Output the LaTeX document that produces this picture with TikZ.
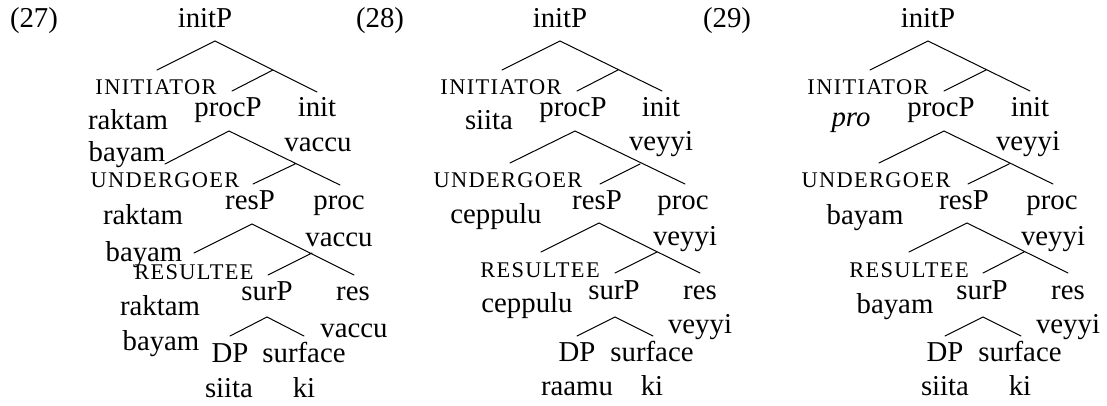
\documentclass[tikz,border=0pt]{standalone}
\usepackage{fontspec}
\setmainfont{Liberation Serif}
\newfontfamily\rolefamily{Liberation Serif}[LetterSpace=6]
\begin{document}
\begin{tikzpicture}[x=0.5pt,y=-0.5pt,
  lbl/.style={anchor=base,inner sep=0pt,outer sep=0pt,font=\fontsize{14.4}{17}\selectfont},
  role/.style={anchor=base,inner sep=0pt,outer sep=0pt,font=\rolefamily\fontsize{11.2}{13}\selectfont},
  branch/.style={line width=0.5pt,line cap=round}]
\useasboundingbox (0,0) rectangle (1107,406);

% ---------------- (27) ----------------
\node[lbl] (n27) at (34,28) {(27)};
\node[lbl] (a0) at (205,28) {initP};
\node[role] (a1) at (156,95) {INITIATOR};
\node[lbl] (a2) at (228,117) {procP};
\node[lbl] (a3) at (317,117) {init};
\node[lbl] (a4) at (128,130) {raktam};
\node[lbl] (a5) at (318,152) {vaccu};
\node[lbl] (a6) at (127,162) {bayam};
\node[role] (a7) at (165,188) {UNDERGOER};
\node[lbl] (a8) at (250,210) {resP};
\node[lbl] (a9) at (339,210) {proc};
\node[lbl] (a10) at (143,225) {raktam};
\node[lbl] (a11) at (339,247) {vaccu};
\node[lbl] (a12) at (144,261) {bayam};
\node[role] (a13) at (194,279) {RESULTEE};
\node[lbl] (a14) at (267,300) {surP};
\node[lbl] (a15) at (353,300) {res};
\node[lbl] (a16) at (160,315) {raktam};
\node[lbl] (a17) at (354,337) {vaccu};
\node[lbl] (a18) at (161,350) {bayam};
\node[lbl] (a19) at (230,362) {DP};
\node[lbl] (a20) at (304,362) {surface};
\node[lbl] (a21) at (229,397) {siita};
\node[lbl] (a22) at (304,397) {ki};

\coordinate (a-t1) at (215,41);  \coordinate (a-l1) at (157,70);
\coordinate (a-r1) at (317,92);  \coordinate (a-m1) at (273,70); \coordinate (a-c1) at (232,91);
\coordinate (a-t2) at (229,131); \coordinate (a-l2) at (165,164);
\coordinate (a-r2) at (340,185); \coordinate (a-m2) at (295,164); \coordinate (a-c2) at (253,184);
\coordinate (a-t3) at (252,224); \coordinate (a-l3) at (194,253);
\coordinate (a-r3) at (354,275); \coordinate (a-m3) at (312,253); \coordinate (a-c3) at (268,275);
\coordinate (a-t4) at (267,317); \coordinate (a-l4) at (230,336); \coordinate (a-r4) at (304,336);
\draw[branch] (a-l1) -- (a-t1) -- (a-r1) (a-m1) -- (a-c1);
\draw[branch] (a-l2) -- (a-t2) -- (a-r2) (a-m2) -- (a-c2);
\draw[branch] (a-l3) -- (a-t3) -- (a-r3) (a-m3) -- (a-c3);
\draw[branch] (a-l4) -- (a-t4) -- (a-r4);

% ---------------- (28) ----------------
\node[lbl] (n28) at (380,28) {(28)};
\node[lbl] (b0) at (560,28) {initP};
\node[role] (b1) at (501,95) {INITIATOR};
\node[lbl] (b2) at (573,117) {procP};
\node[lbl] (b3) at (661,117) {init};
\node[lbl] (b4) at (489,130) {siita};
\node[lbl] (b5) at (661,151) {veyyi};
\node[role] (b7) at (508,188) {UNDERGOER};
\node[lbl] (b8) at (597,210) {resP};
\node[lbl] (b9) at (683,210) {proc};
\node[lbl] (b10) at (496,224) {ceppulu};
\node[lbl] (b11) at (685,245) {veyyi};
\node[role] (b13) at (540,278) {RESULTEE};
\node[lbl] (b14) at (614,299) {surP};
\node[lbl] (b15) at (700,299) {res};
\node[lbl] (b16) at (527,312) {ceppulu};
\node[lbl] (b17) at (700,333) {veyyi};
\node[lbl] (b19) at (577,361) {DP};
\node[lbl] (b20) at (652,361) {surface};
\node[lbl] (b21) at (577,395) {raamu};
\node[lbl] (b22) at (652,395) {ki};

\coordinate (b-t1) at (560,41);  \coordinate (b-l1) at (502,70);
\coordinate (b-r1) at (662,91);  \coordinate (b-m1) at (618,70); \coordinate (b-c1) at (577,91);
\coordinate (b-t2) at (575,131); \coordinate (b-l2) at (510,163);
\coordinate (b-r2) at (685,184); \coordinate (b-m2) at (640,164); \coordinate (b-c2) at (600,184);
\coordinate (b-t3) at (599,223); \coordinate (b-l3) at (541,252);
\coordinate (b-r3) at (700,273); \coordinate (b-m3) at (657,252); \coordinate (b-c3) at (615,273);
\coordinate (b-t4) at (615,317); \coordinate (b-l4) at (577,336); \coordinate (b-r4) at (653,336);
\draw[branch] (b-l1) -- (b-t1) -- (b-r1) (b-m1) -- (b-c1);
\draw[branch] (b-l2) -- (b-t2) -- (b-r2) (b-m2) -- (b-c2);
\draw[branch] (b-l3) -- (b-t3) -- (b-r3) (b-m3) -- (b-c3);
\draw[branch] (b-l4) -- (b-t4) -- (b-r4);

% ---------------- (29) ----------------
\node[lbl] (n29) at (727,28) {(29)};
\node[lbl] (c0) at (928,28) {initP};
\node[role] (c1) at (868,95) {INITIATOR};
\node[lbl] (c2) at (941,117) {procP};
\node[lbl] (c3) at (1030,117) {init};
\node[lbl] (c4) at (851,127) {\itshape pro};
\node[lbl] (c5) at (1028,151) {veyyi};
\node[role] (c7) at (876,188) {UNDERGOER};
\node[lbl] (c8) at (964,210) {resP};
\node[lbl] (c9) at (1052,210) {proc};
\node[lbl] (c10) at (865,225) {bayam};
\node[lbl] (c11) at (1053,245) {veyyi};
\node[role] (c13) at (909,278) {RESULTEE};
\node[lbl] (c14) at (982,299) {surP};
\node[lbl] (c15) at (1068,299) {res};
\node[lbl] (c16) at (895,313) {bayam};
\node[lbl] (c17) at (1068,333) {veyyi};
\node[lbl] (c19) at (945,361) {DP};
\node[lbl] (c20) at (1020,361) {surface};
\node[lbl] (c21) at (945,395) {siita};
\node[lbl] (c22) at (1020,395) {ki};

\coordinate (c-t1) at (928,41);  \coordinate (c-l1) at (870,70);
\coordinate (c-r1) at (1030,91); \coordinate (c-m1) at (986,70); \coordinate (c-c1) at (944,91);
\coordinate (c-t2) at (944,131); \coordinate (c-l2) at (879,163);
\coordinate (c-r2) at (1053,184); \coordinate (c-m2) at (1009,164); \coordinate (c-c2) at (968,184);
\coordinate (c-t3) at (967,223); \coordinate (c-l3) at (909,252);
\coordinate (c-r3) at (1068,273); \coordinate (c-m3) at (1024,252); \coordinate (c-c3) at (983,273);
\coordinate (c-t4) at (983,317); \coordinate (c-l4) at (945,336); \coordinate (c-r4) at (1021,336);
\draw[branch] (c-l1) -- (c-t1) -- (c-r1) (c-m1) -- (c-c1);
\draw[branch] (c-l2) -- (c-t2) -- (c-r2) (c-m2) -- (c-c2);
\draw[branch] (c-l3) -- (c-t3) -- (c-r3) (c-m3) -- (c-c3);
\draw[branch] (c-l4) -- (c-t4) -- (c-r4);
\end{tikzpicture}
\end{document}
